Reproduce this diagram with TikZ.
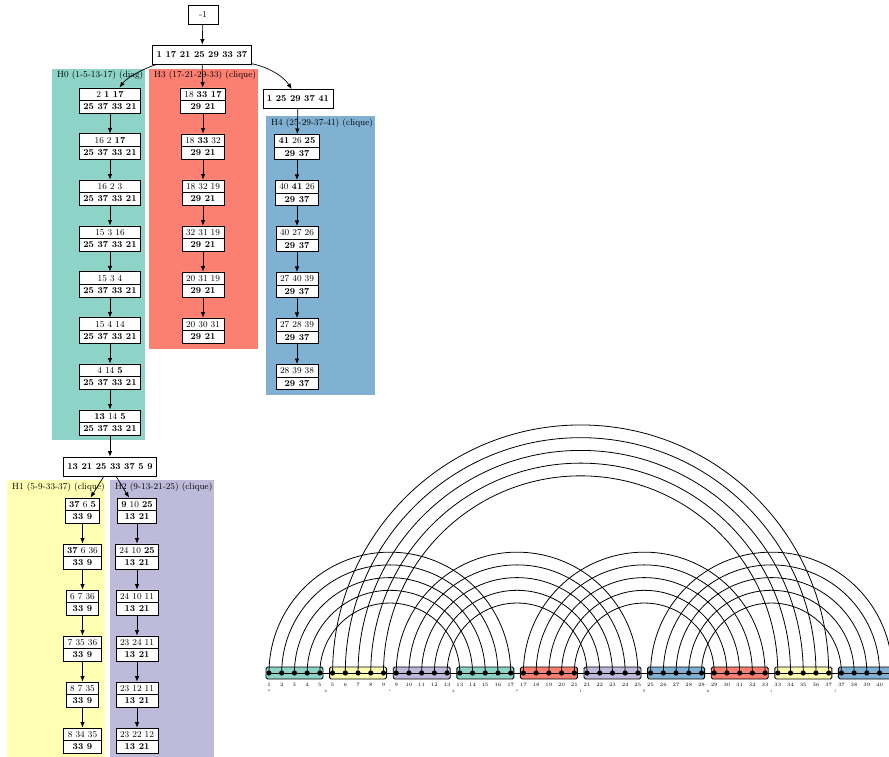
\documentclass[tikz,border=0pt]{standalone}
\usepackage{tikz}
\usetikzlibrary{shapes.multipart,arrows.meta}
\pgfdeclarelayer{background}
\pgfdeclarelayer{foreground}
\pgfsetlayers{background,main,foreground}
\definecolor{hteal}{HTML}{8DD3C7}
\definecolor{hyellow}{HTML}{FFFFB3}
\definecolor{hpurple}{HTML}{BEBADA}
\definecolor{hred}{HTML}{FB8072}
\definecolor{hblue}{HTML}{80B1D3}
\tikzset{
  bag/.style={rectangle split, rectangle split parts=2, draw, line width=0.8pt, fill=white,
    inner xsep=4pt, inner ysep=2.8pt, font=\fontsize{9}{10}\selectfont},
  sepbox/.style={draw, line width=0.8pt, fill=white, inner xsep=4pt, minimum height=19pt,
    font=\fontsize{9}{10}\selectfont\bfseries},
  edge/.style={-{Latex[length=5.5pt,width=4.5pt]}, line width=0.7pt},
  clusterlbl/.style={anchor=west, inner sep=0pt, font=\fontsize{9}{10}\selectfont},
  dot/.style={circle, fill=black, inner sep=0pt, minimum size=5.2pt},
}

\begin{document}
\begin{tikzpicture}[x=1pt,y=-1pt]
\clip (0,0) rectangle (889,757);
\begin{pgfonlayer}{background}
\fill[hteal] (52,69) rectangle (145,440);
\node[clusterlbl] (lh0) at (57,75) {H0 (1-5-13-17) (diag)};
\fill[hred] (149,69) rectangle (258,349);
\node[clusterlbl] (lh3) at (154,75) {H3 (17-21-29-33) (clique)};
\fill[hblue] (266,116) rectangle (375,395);
\node[clusterlbl] (lh4) at (271,123) {H4 (25-29-37-41) (clique)};
\fill[hyellow] (7,480) rectangle (105,757);
\node[clusterlbl] (lh1) at (12,487) {H1 (5-9-33-37) (clique)};
\fill[hpurple] (110,480) rectangle (214,757);
\node[clusterlbl] (lh2) at (115,487) {H2 (9-13-21-25) (clique)};
\end{pgfonlayer}

\node[sepbox, font=\fontsize{9}{10}\selectfont, minimum width=30pt] (top) at (203,14.5) {-1};
\node[sepbox] (root) at (202,54.5) {1 17 21 25 29 33 37};
\node[sepbox] (r4) at (298,99) {1 25 29 37 41};
\node[sepbox] (sep) at (110,466.5) {13 21 25 33 37 5 9};

\foreach \t [count=\k from 0] in {{2 \textbf{1 17}},{16 2 \textbf{17}},{16 2 3},{15 3 16},{15 3 4},{15 4 14},{4 14 \textbf{5}},{\textbf{13} 14 \textbf{5}}}
  \node[bag] (h0n\k) at (110,{100.5+46*\k}) {\t \nodepart{two} \textbf{25 37 33 21}};
\foreach \t [count=\k from 0] in {{18 \textbf{33 17}},{18 \textbf{33} 32},{18 32 19},{32 31 19},{20 31 19},{20 30 31}}
  \node[bag] (h3n\k) at (203,{100.5+46*\k}) {\t \nodepart{two} \textbf{29 21}};
\foreach \t [count=\k from 0] in {{\textbf{41} 26 \textbf{25}},{40 \textbf{41} 26},{40 27 26},{27 40 39},{27 28 39},{28 39 38}}
  \node[bag] (h4n\k) at (297,{147+46*\k}) {\t \nodepart{two} \textbf{29 37}};
\foreach \t [count=\k from 0] in {{\textbf{37} 6 \textbf{5}},{\textbf{37} 6 36},{6 7 36},{7 35 36},{8 7 35},{8 34 35}}
  \node[bag] (h1n\k) at (82.5,{510.5+46*\k}) {\t \nodepart{two} \textbf{33 9}};
\foreach \t [count=\k from 0] in {{\textbf{9} 10 \textbf{25}},{24 10 \textbf{25}},{24 10 11},{23 24 11},{23 12 11},{23 22 12}}
  \node[bag] (h2n\k) at (137,{510.5+46*\k}) {\t \nodepart{two} \textbf{13 21}};

\draw[edge] (top) -- (root);
\draw[edge] (root) .. controls (150,66) and (128,76) .. (h0n0);
\draw[edge] (root) -- (h3n0);
\draw[edge] (root) .. controls (264,66) and (282,74) .. (r4);
\draw[edge] (r4) -- (h4n0);
\foreach \k [evaluate=\k as \j using int(\k-1)] in {1,...,7}
  \draw[edge] (h0n\j) -- (h0n\k);
\foreach \k [evaluate=\k as \j using int(\k-1)] in {1,...,5}{
  \draw[edge] (h3n\j) -- (h3n\k);
  \draw[edge] (h4n\j) -- (h4n\k);
  \draw[edge] (h1n\j) -- (h1n\k);
  \draw[edge] (h2n\j) -- (h2n\k);
}
\draw[edge] (h0n7) -- (sep);
\draw[edge] (sep) -- (h1n0);
\draw[edge] (sep) -- (h2n0);

\begin{pgfonlayer}{foreground}
\foreach \p in {0,...,49}{
  \pgfmathtruncatemacro{\lbl}{4*int(\p/5)+mod(\p,5)+1}
  \node[dot] (pt\p) at ({269+12.72*\p},673) {};
  \node[font=\fontsize{5}{5}\selectfont, inner sep=0pt] (num\p) at ({269+12.72*\p},685) {\lbl};
}
\end{pgfonlayer}
\begin{pgfonlayer}{background}
\foreach \c [count=\k from 0] in {hteal,hyellow,hpurple,hteal,hred,hpurple,hblue,hred,hyellow,hblue}
  \draw[line width=0.9pt, rounded corners=1.5pt, fill=\c] ({266+63.6*\k},667) rectangle ({323+63.6*\k},679);
\draw[line width=0.8pt] (pt0.center) -- (pt49.center);
\end{pgfonlayer}
\foreach \s [count=\k from 0] in {a,b,c,d,e,f,g,h,i,j}{
  \pgfmathsetmacro{\lx}{ifthenelse(\k==0,269,262.64+63.6*\k)}
  \node[font=\fontsize{3.5}{4}\selectfont, inner sep=0pt] (seg\s) at (\lx,691) {\s};
}
\foreach \lft/\rgt in {0/3,1/8,2/5,4/7,6/9}
  \foreach \i in {0,...,4}{
    \pgfmathtruncatemacro{\srcp}{5*\lft+\i}
    \pgfmathtruncatemacro{\dstp}{5*\rgt+4-\i}
    \pgfmathsetmacro{\rad}{(\dstp-\srcp)*12.72/2}
    \pgfmathsetmacro{\kap}{0.5523*\rad}
    \draw[line width=0.8pt] (pt\srcp.center) .. controls +(0,-\kap) and +(-\kap,0) .. ++(\rad,-\rad)
      .. controls +(\kap,0) and +(0,-\kap) .. (pt\dstp.center);
  }
\end{tikzpicture}
\end{document}
